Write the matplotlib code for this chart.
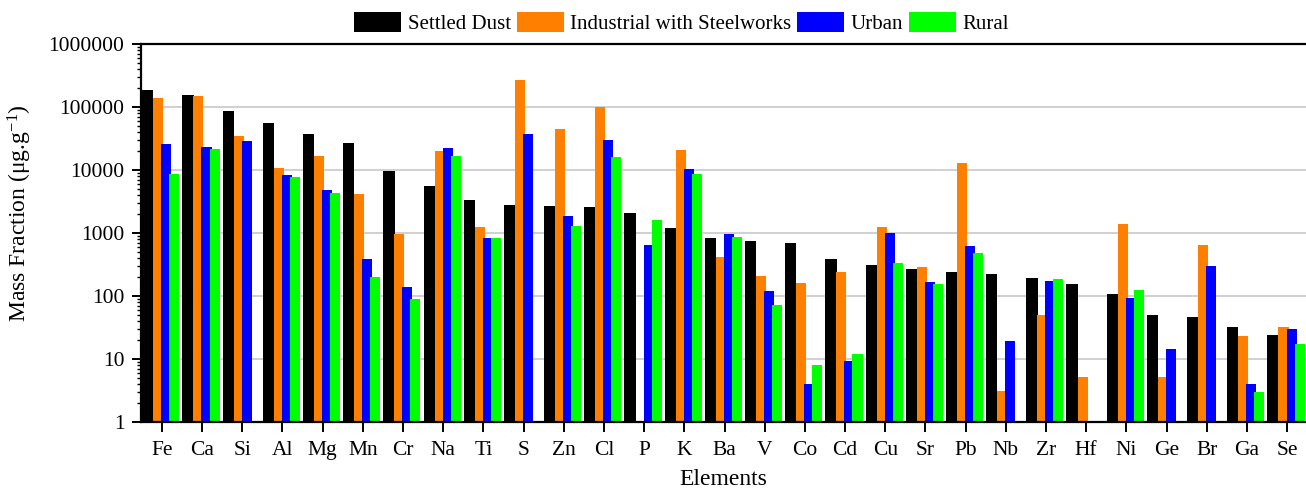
import numpy as np
import matplotlib
matplotlib.use('Agg')
import matplotlib.pyplot as plt
from matplotlib.ticker import LogLocator, FixedLocator, FuncFormatter

plt.rcParams['font.family'] = ['Liberation Serif', 'DejaVu Serif']
plt.rcParams['mathtext.fontset'] = 'custom'
plt.rcParams['mathtext.rm'] = 'Liberation Serif'
plt.rcParams['mathtext.it'] = 'Liberation Serif:italic'

################################################################################
elements = ['Fe', 'Ca', 'Si', 'Al', 'Mg', 'Mn', 'Cr', 'Na', 'Ti', 'S', 'Zn', 'Cl',
            'P', 'K', 'Ba', 'V', 'Co', 'Cd', 'Cu', 'Sr', 'Pb', 'Nb', 'Zr', 'Hf',
            'Ni', 'Ge', 'Br', 'Ga', 'Se']
nan = np.nan
settled_dust = [188000, 155000, 86400, 55700, 37300, 26800, 9640, 5510, 3300, 2750,
                2680, 2590, 2080, 1200, 823, 755, 686, 387, 314, 268, 240, 226, 193,
                155, 108, 49.9, 46.4, 32.2, 24.0]
industrial = [139000, 151000, 35100, 10800, 16500, 4160, 964, 20000, 1245, 265000,
              44700, 100000, nan, 20800, 416, 208, 161, 238, 1245, 289, 12900, 3.07,
              49.9, 5.12, 1390, 5.12, 645, 23.2, 32.2]
urban = [25900, 23500, 29200, 8330, 4820, 387, 139, 22300, 833, 37700, 1840, 30300,
         637, 10400, 953, 119, 4.06, 9.18, 1000, 165, 614, 19.3, 173, nan, 94.1,
         14.2, 299, 4.06, 29.9]
rural = [8750, 21500, nan, 7740, 4310, 200, 89.6, 16900, 833, nan, 1280, 16100,
         1610, 8650, 853, 72.8, 7.93, 12.0, 334, 155, 482, nan, 188, nan, 124, nan,
         nan, 3.03, 17.3]
series_names = ['Settled Dust', 'Industrial with Steelworks', 'Urban', 'Rural']
################################################################################

colors = ['#000000', '#ff7f00', '#0000ff', '#00ff00']
offsets = [-0.35, -0.09, 0.11, 0.31]
widths = [0.28, 0.25, 0.25, 0.25]

fig = plt.figure(figsize=(13.06, 4.90), dpi=100)
ax = fig.add_axes([141 / 1306, 1 - 422 / 490, 1 - 141 / 1306, (422 - 44) / 490])

x = np.arange(len(elements))
for vals, name, c, off, w in zip([settled_dust, industrial, urban, rural],
                                 series_names, colors, offsets, widths):
    v = np.array(vals, dtype=float)
    m = ~np.isnan(v)
    ax.bar(x[m] + off, v[m], width=w, color=c, label=name,
           linewidth=0, zorder=2)

ax.set_yscale('log')
ax.set_ylim(1, 1e6)
ax.set_xlim(-0.52, 28.47)
ax.yaxis.set_major_locator(FixedLocator([10 ** i for i in range(7)]))
ax.yaxis.set_minor_locator(LogLocator(base=10, subs=np.arange(2, 10), numticks=20))
ax.yaxis.set_major_formatter(FuncFormatter(lambda v, p: '%d' % round(v)))
ax.yaxis.set_minor_formatter(FuncFormatter(lambda v, p: ''))
ax.set_xticks(x)
ax.set_xticklabels(elements)

ax.grid(axis='y', which='major', color='#c8c8c8', linewidth=1.2, zorder=0)
ax.set_axisbelow(True)

for s in ['left', 'bottom', 'top']:
    ax.spines[s].set_linewidth(1.6)
ax.spines['right'].set_visible(False)
ax.tick_params(axis='y', which='major', direction='out', length=6.5, width=1.4,
               labelsize=15.5, pad=5.5)
ax.tick_params(axis='y', which='minor', direction='out', length=3, width=1.0)
ax.tick_params(axis='x', which='major', direction='out', length=7, width=1.4,
               labelsize=15.5, pad=7)

ax.set_xlabel('Elements', fontsize=17, labelpad=6.5)
ax.set_ylabel('Mass Fraction (\u03bcg.g$^{-1}$)', fontsize=17)
ax.yaxis.set_label_coords(-0.092, 0.553)

fig.legend(loc='center', bbox_to_anchor=(0.522, 0.953), ncol=4, frameon=False,
           fontsize=15, handlelength=2.25, handleheight=1.1, handletextpad=0.3,
           columnspacing=0.3, borderaxespad=0)

plt.savefig('out.png', dpi=100)
